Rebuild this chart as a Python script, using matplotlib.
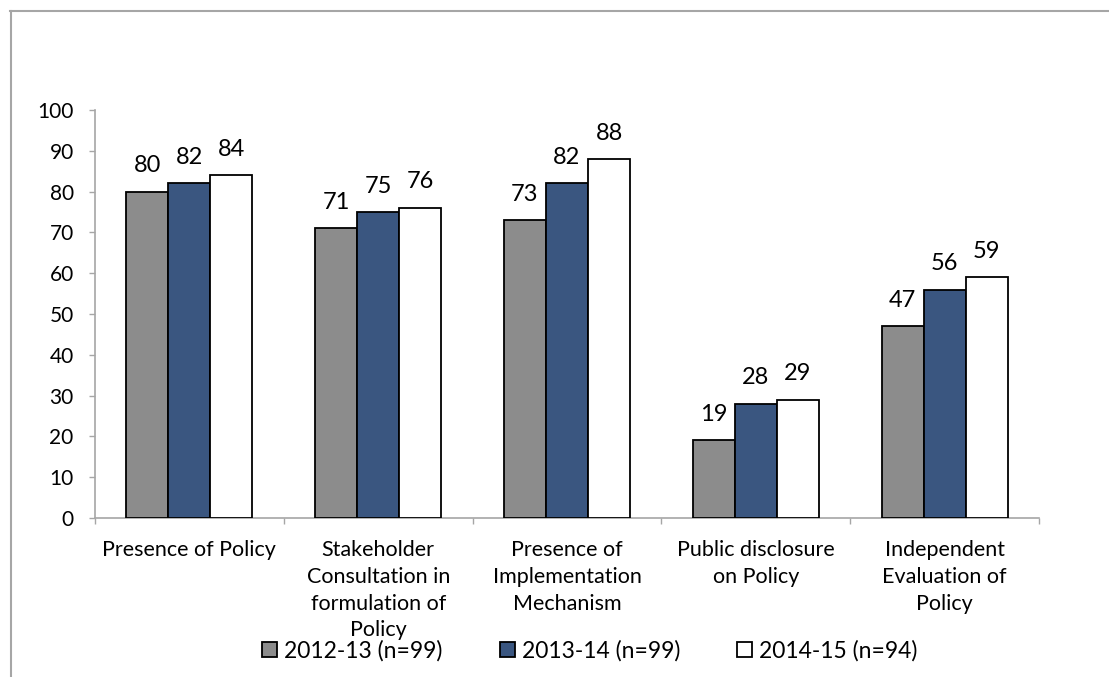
import numpy as np
import matplotlib
matplotlib.use('Agg')
import matplotlib.pyplot as plt
from matplotlib.lines import Line2D

plt.rcParams['font.family'] = ['Lato', 'DejaVu Sans']

categories = ['Presence of Policy',
              'Stakeholder\nConsultation in\nformulation of\nPolicy',
              'Presence of\nImplementation\nMechanism',
              'Public disclosure\non Policy',
              'Independent\nEvaluation of\nPolicy']
series_names = ['2012-13 (n=99)', '2013-14 (n=99)', '2014-15 (n=94)']
vals_2012 = [80, 71, 73, 19, 47]
vals_2013 = [82, 75, 82, 28, 56]
vals_2014 = [84, 76, 88, 29, 59]
colors = ['#8c8c8c', '#3a5680', '#ffffff']

fig = plt.figure(figsize=(11.09, 6.77), dpi=100)
ax = fig.add_axes([95 / 1109, 159 / 677, 944 / 1109, 408 / 677])

x = np.arange(len(categories))
w = 0.2225
for i, (vals, name, c) in enumerate(zip([vals_2012, vals_2013, vals_2014], series_names, colors)):
    bars = ax.bar(x + (i - 1) * w, vals, w, color=c, edgecolor='black', linewidth=1.3,
                  label=name, zorder=3)
    for b, v in zip(bars, vals):
        ax.annotate(str(v), (b.get_x() + b.get_width() / 2, v), xytext=(0, 14),
                    textcoords='offset points', ha='center', va='baseline', fontsize=17)

ax.set_xlim(-0.5, len(categories) - 0.5)
ax.set_ylim(0, 100)
ax.set_yticks(range(0, 101, 10))
ax.tick_params(axis='y', labelsize=15, length=4.3, width=1, color='#a6a6a6', pad=11)

# boundary ticks between groups, labels on minor ticks at the group centres
ax.set_xticks(np.arange(-0.5, len(categories), 1.0))
ax.set_xticklabels([])
ax.tick_params(axis='x', which='major', length=4.3, width=1, color='#a6a6a6')
ax.set_xticks(x, minor=True)
ax.set_xticklabels(categories, minor=True, fontsize=15.5, linespacing=1.42, va='top')
ax.tick_params(axis='x', which='minor', length=0, pad=16)

for s in ['top', 'right']:
    ax.spines[s].set_visible(False)
for s in ['left', 'bottom']:
    ax.spines[s].set_color('#a6a6a6')
    ax.spines[s].set_linewidth(1.2)

fig.legend(loc='center', bbox_to_anchor=(590 / 1109, 26 / 677), ncol=3, frameon=False,
           fontsize=16.5, handlelength=0.65, handleheight=0.65, handletextpad=0.3,
           columnspacing=2.5)

# chart frame lines
fig.add_artist(Line2D([10 / 1109, 1], [1 - 10.5 / 677] * 2, color='#a6a6a6', lw=1.5,
                      transform=fig.transFigure))
fig.add_artist(Line2D([10.5 / 1109] * 2, [0, 1 - 10.5 / 677], color='#a6a6a6', lw=1.5,
                      transform=fig.transFigure))

fig.savefig('out.png', dpi=100, facecolor='white')
